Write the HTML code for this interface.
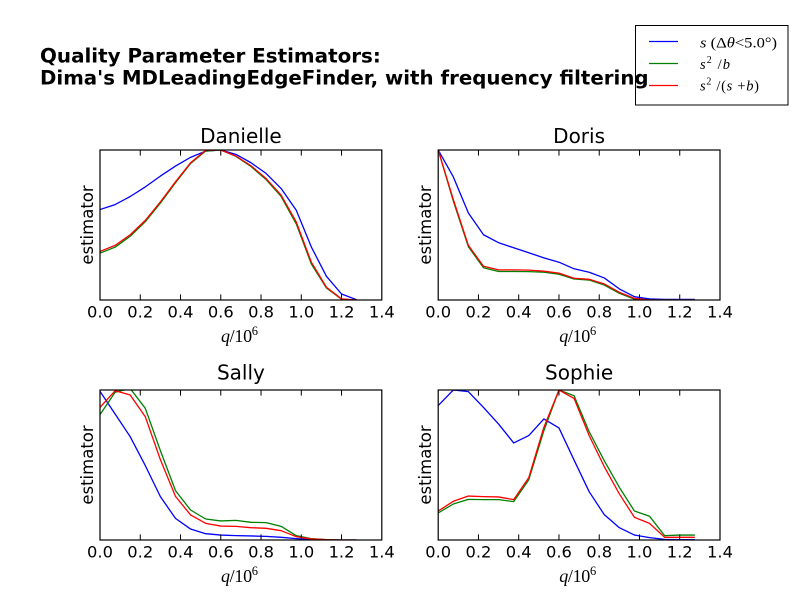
<!DOCTYPE html>
<html><head><meta charset="utf-8"><style>
html,body{margin:0;padding:0;background:#fff;}
svg{display:block;}
.tk{font-family:"DejaVu Sans","Liberation Sans",sans-serif;font-size:16.3px;fill:#000;}
.tt{font-family:"DejaVu Sans","Liberation Sans",sans-serif;font-size:20px;fill:#000;}
.yl{font-family:"DejaVu Sans","Liberation Sans",sans-serif;font-size:16.5px;fill:#000;}
.ml{font-family:"Liberation Serif","DejaVu Serif",serif;font-size:18px;fill:#000;}
.lg{font-family:"Liberation Serif","DejaVu Serif",serif;font-size:14.5px;fill:#000;}
.ln{fill:none;stroke-width:1.3;vector-effect:non-scaling-stroke;stroke-linejoin:round;}
</style></head><body>
<svg width="800" height="600" viewBox="0 0 800 600" xmlns="http://www.w3.org/2000/svg">
<defs><clipPath id="c" clipPathUnits="userSpaceOnUse"><rect x="0" y="0" width="281.8" height="150"/></clipPath></defs>
<rect width="800" height="600" fill="#fff"/>

<!-- Legend (drawn before suptitle) -->
<rect x="635.5" y="25.5" width="152.5" height="79.5" fill="#fff" stroke="#000" stroke-width="1"/>
<line x1="649" y1="41.5" x2="678" y2="41.5" stroke="#0000ff" stroke-width="1.3"/>
<line x1="649" y1="63.5" x2="678" y2="63.5" stroke="#008000" stroke-width="1.3"/>
<line x1="649" y1="85.5" x2="678" y2="85.5" stroke="#ff0000" stroke-width="1.3"/>
<text class="lg" x="700" y="47.5" textLength="77" lengthAdjust="spacingAndGlyphs"><tspan font-style="italic">s</tspan> (Δ<tspan font-style="italic">θ</tspan>&lt;5.0°)</text>
<text class="lg" x="700" y="69" textLength="30" lengthAdjust="spacing"><tspan font-style="italic">s</tspan><tspan font-size="10" dy="-6">2</tspan><tspan dy="6"> /</tspan><tspan font-style="italic">b</tspan></text>
<text class="lg" x="700" y="90.5" textLength="59" lengthAdjust="spacing"><tspan font-style="italic">s</tspan><tspan font-size="10" dy="-6">2</tspan><tspan dy="6"> /(</tspan><tspan font-style="italic">s</tspan> +<tspan font-style="italic">b</tspan>)</text>

<!-- Suptitle -->
<text x="40" y="62.5" font-family="DejaVu Sans, Liberation Sans, sans-serif" font-weight="bold" font-size="19.9">Quality Parameter Estimators:</text>
<text x="40" y="84.5" font-family="DejaVu Sans, Liberation Sans, sans-serif" font-weight="bold" font-size="19.8">Dima's MDLeadingEdgeFinder, with frequency filtering</text>

<!-- ===== Axes A: Danielle ===== -->
<g transform="translate(100,150)">
  <g clip-path="url(#c)">
    <g transform="translate(0,150) scale(201.2857,-150)">
      <polyline class="ln" stroke="#0000ff" points="0,.603 .075,.636 .15,.69 .225,.754 .3,.826 .375,.893 .45,.951 .525,.993 .6,1 .675,.971 .75,.915 .825,.844 .9,.743 .975,.598 1.05,.353 1.125,.158 1.2,.04 1.275,.002"/>
      <polyline class="ln" stroke="#008000" points="0,.312 .075,.352 .15,.425 .225,.522 .3,.646 .375,.782 .45,.91 .525,.993 .6,1 .675,.958 .75,.89 .825,.803 .9,.69 .975,.507 1.05,.24 1.125,.08 1.2,.005 1.275,0"/>
      <polyline class="ln" stroke="#ff0000" points="0,.324 .075,.364 .15,.435 .225,.531 .3,.654 .375,.788 .45,.915 .525,.998 .6,1 .675,.96 .75,.895 .825,.81 .9,.699 .975,.52 1.05,.252 1.125,.085 1.2,.007 1.275,0"/>
    </g>
  </g>
  <rect x="0" y="0" width="281.8" height="150" fill="none" stroke="#000" stroke-width="1.2"/>
  <g stroke="#000" stroke-width="1">
    <path d="M40.26,150v-5.6M80.51,150v-5.6M120.77,150v-5.6M161.03,150v-5.6M201.29,150v-5.6M241.54,150v-5.6M40.26,0v5.6M80.51,0v5.6M120.77,0v5.6M161.03,0v5.6M201.29,0v5.6M241.54,0v5.6"/>
  </g>
  <g class="tk" text-anchor="middle">
    <text x="0" y="167.5">0.0</text><text x="40.26" y="167.5">0.2</text><text x="80.51" y="167.5">0.4</text><text x="120.77" y="167.5">0.6</text><text x="161.03" y="167.5">0.8</text><text x="201.29" y="167.5">1.0</text><text x="241.54" y="167.5">1.2</text><text x="281.8" y="167.5">1.4</text>
  </g>
  <text class="tt" x="140.9" y="-7" text-anchor="middle">Danielle</text>
  <text class="yl" transform="translate(-7,75) rotate(-90)" text-anchor="middle">estimator</text>
  <text class="ml" x="121" y="192" textLength="37" lengthAdjust="spacing"><tspan font-style="italic">q</tspan>/10<tspan font-size="12.5" dy="-7">6</tspan></text>
</g>

<!-- ===== Axes B: Doris ===== -->
<g transform="translate(438.2,150)">
  <g clip-path="url(#c)">
    <g transform="translate(0,150) scale(201.2857,-150)">
      <polyline class="ln" stroke="#0000ff" points="0,1 .075,.821 .15,.58 .225,.435 .3,.382 .375,.348 .45,.315 .525,.281 .6,.252 .675,.208 .75,.185 .825,.147 .9,.074 .975,.022 1.05,.007 1.125,.004 1.2,.004 1.275,.004"/>
      <polyline class="ln" stroke="#008000" points="0,1 .075,.66 .15,.355 .225,.215 .3,.19 .375,.19 .45,.189 .525,.185 .6,.172 .675,.14 .75,.133 .825,.1 .9,.045 .975,.006 1.05,0 1.125,0 1.2,0 1.275,0"/>
      <polyline class="ln" stroke="#ff0000" points="0,1 .075,.67 .15,.364 .225,.225 .3,.201 .375,.201 .45,.199 .525,.192 .6,.179 .675,.145 .75,.138 .825,.107 .9,.051 .975,.011 1.05,0 1.125,0 1.2,0 1.275,0"/>
    </g>
  </g>
  <rect x="0" y="0" width="281.8" height="150" fill="none" stroke="#000" stroke-width="1.2"/>
  <g stroke="#000" stroke-width="1">
    <path d="M40.26,150v-5.6M80.51,150v-5.6M120.77,150v-5.6M161.03,150v-5.6M201.29,150v-5.6M241.54,150v-5.6M40.26,0v5.6M80.51,0v5.6M120.77,0v5.6M161.03,0v5.6M201.29,0v5.6M241.54,0v5.6"/>
  </g>
  <g class="tk" text-anchor="middle">
    <text x="0" y="167.5">0.0</text><text x="40.26" y="167.5">0.2</text><text x="80.51" y="167.5">0.4</text><text x="120.77" y="167.5">0.6</text><text x="161.03" y="167.5">0.8</text><text x="201.29" y="167.5">1.0</text><text x="241.54" y="167.5">1.2</text><text x="281.8" y="167.5">1.4</text>
  </g>
  <text class="tt" x="140.9" y="-7" text-anchor="middle">Doris</text>
  <text class="yl" transform="translate(-7,75) rotate(-90)" text-anchor="middle">estimator</text>
  <text class="ml" x="121" y="192" textLength="37" lengthAdjust="spacing"><tspan font-style="italic">q</tspan>/10<tspan font-size="12.5" dy="-7">6</tspan></text>
</g>

<!-- ===== Axes C: Sally ===== -->
<g transform="translate(100,390)">
  <g clip-path="url(#c)">
    <g transform="translate(0,150) scale(201.2857,-150)">
      <polyline class="ln" stroke="#0000ff" points="0,.991 .075,.84 .15,.689 .225,.496 .3,.289 .375,.144 .45,.073 .525,.042 .6,.033 .675,.029 .75,.027 .825,.024 .9,.018 .975,.009 1.05,.002 1.125,0 1.2,0 1.275,0"/>
      <polyline class="ln" stroke="#008000" points="0,.836 .075,.985 .15,1.01 .225,.878 .3,.596 .375,.329 .45,.2 .525,.14 .6,.127 .675,.131 .75,.118 .825,.116 .9,.091 .975,.029 1.05,.009 1.125,.002 1.2,0 1.275,0"/>
      <polyline class="ln" stroke="#ff0000" points="0,.884 .075,.995 .15,.967 .225,.822 .3,.536 .375,.291 .45,.167 .525,.111 .6,.093 .675,.091 .75,.082 .825,.078 .9,.062 .975,.022 1.05,.007 1.125,.002 1.2,0 1.275,0"/>
    </g>
  </g>
  <rect x="0" y="0" width="281.8" height="150" fill="none" stroke="#000" stroke-width="1.2"/>
  <g stroke="#000" stroke-width="1">
    <path d="M40.26,150v-5.6M80.51,150v-5.6M120.77,150v-5.6M161.03,150v-5.6M201.29,150v-5.6M241.54,150v-5.6M40.26,0v5.6M80.51,0v5.6M120.77,0v5.6M161.03,0v5.6M201.29,0v5.6M241.54,0v5.6"/>
  </g>
  <g class="tk" text-anchor="middle">
    <text x="0" y="167.5">0.0</text><text x="40.26" y="167.5">0.2</text><text x="80.51" y="167.5">0.4</text><text x="120.77" y="167.5">0.6</text><text x="161.03" y="167.5">0.8</text><text x="201.29" y="167.5">1.0</text><text x="241.54" y="167.5">1.2</text><text x="281.8" y="167.5">1.4</text>
  </g>
  <text class="tt" x="140.9" y="-10.5" text-anchor="middle">Sally</text>
  <text class="yl" transform="translate(-7,75) rotate(-90)" text-anchor="middle">estimator</text>
  <text class="ml" x="121" y="192" textLength="37" lengthAdjust="spacing"><tspan font-style="italic">q</tspan>/10<tspan font-size="12.5" dy="-7">6</tspan></text>
</g>

<!-- ===== Axes D: Sophie ===== -->
<g transform="translate(438.2,390)">
  <g clip-path="url(#c)">
    <g transform="translate(0,150) scale(201.2857,-150)">
      <polyline class="ln" stroke="#0000ff" points="0,.896 .075,1 .15,.989 .225,.884 .3,.773 .375,.647 .45,.696 .525,.807 .6,.747 .675,.533 .75,.322 .825,.169 .9,.082 .975,.033 1.05,.016 1.125,.004 1.2,.002 1.275,.002"/>
      <polyline class="ln" stroke="#008000" points="0,.18 .075,.24 .15,.271 .225,.269 .3,.269 .375,.256 .45,.402 .525,.729 .6,1 .675,.962 .75,.722 .825,.529 .9,.351 .975,.193 1.05,.158 1.125,.029 1.2,.033 1.275,.033"/>
      <polyline class="ln" stroke="#ff0000" points="0,.193 .075,.258 .15,.293 .225,.289 .3,.287 .375,.269 .45,.416 .525,.751 .6,1 .675,.944 .75,.696 .825,.489 .9,.307 .975,.151 1.05,.111 1.125,.018 1.2,.018 1.275,.018"/>
    </g>
  </g>
  <rect x="0" y="0" width="281.8" height="150" fill="none" stroke="#000" stroke-width="1.2"/>
  <g stroke="#000" stroke-width="1">
    <path d="M40.26,150v-5.6M80.51,150v-5.6M120.77,150v-5.6M161.03,150v-5.6M201.29,150v-5.6M241.54,150v-5.6M40.26,0v5.6M80.51,0v5.6M120.77,0v5.6M161.03,0v5.6M201.29,0v5.6M241.54,0v5.6"/>
  </g>
  <g class="tk" text-anchor="middle">
    <text x="0" y="167.5">0.0</text><text x="40.26" y="167.5">0.2</text><text x="80.51" y="167.5">0.4</text><text x="120.77" y="167.5">0.6</text><text x="161.03" y="167.5">0.8</text><text x="201.29" y="167.5">1.0</text><text x="241.54" y="167.5">1.2</text><text x="281.8" y="167.5">1.4</text>
  </g>
  <text class="tt" x="140.9" y="-10.5" text-anchor="middle">Sophie</text>
  <text class="yl" transform="translate(-7,75) rotate(-90)" text-anchor="middle">estimator</text>
  <text class="ml" x="121" y="192" textLength="37" lengthAdjust="spacing"><tspan font-style="italic">q</tspan>/10<tspan font-size="12.5" dy="-7">6</tspan></text>
</g>
</svg>
</body></html>
